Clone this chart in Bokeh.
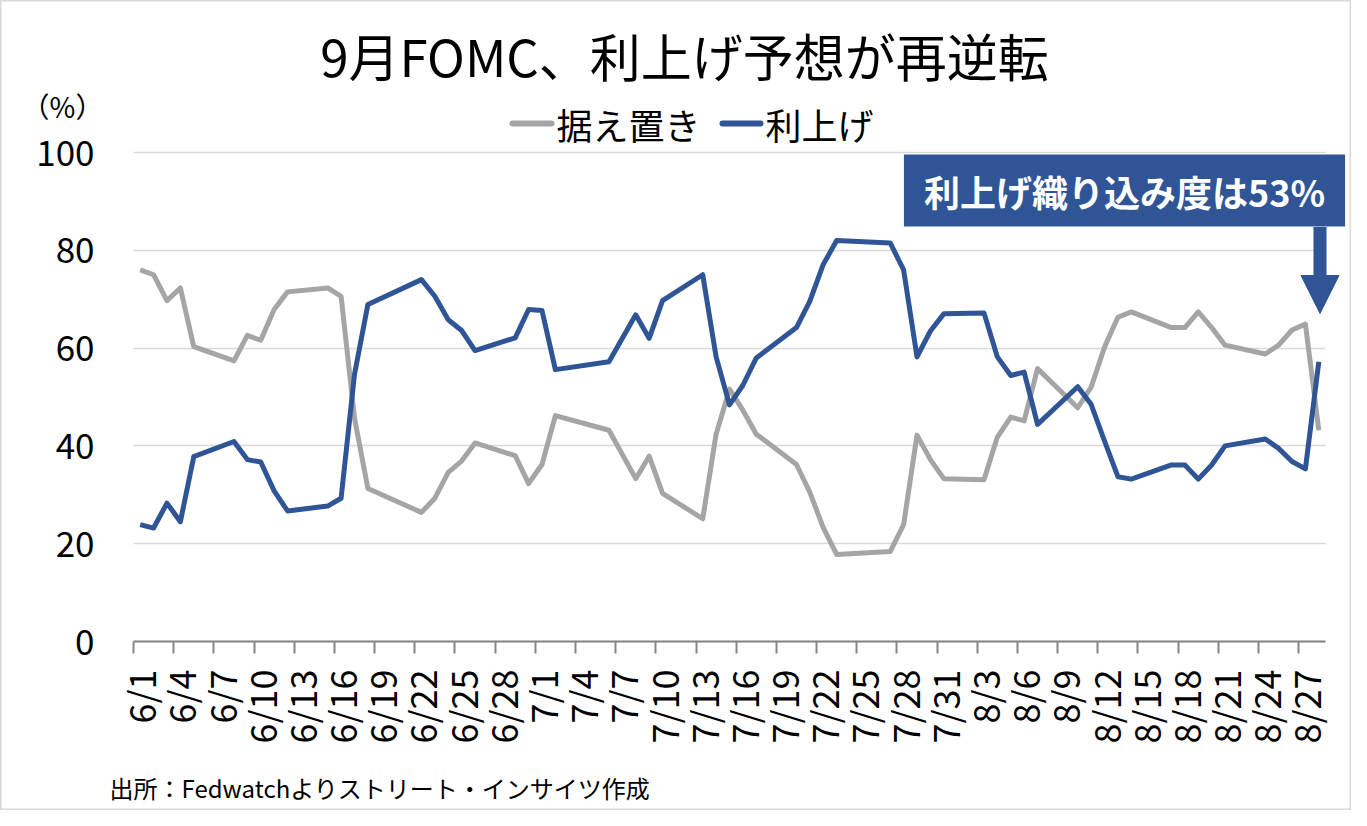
import math
import bokeh.plotting as bplt
import bokeh.models as bmod
from bokeh.embed import file_html
from bokeh.resources import INLINE

# business days (2015), FedWatch probabilities for the September FOMC
dates = ["6/1", "6/2", "6/3", "6/4", "6/5", "6/8", "6/9", "6/10", "6/11", "6/12",
         "6/15", "6/16", "6/17", "6/18", "6/22", "6/23", "6/24", "6/25", "6/26",
         "6/29", "6/30", "7/1", "7/2", "7/6", "7/8", "7/9", "7/10", "7/13", "7/14",
         "7/15", "7/16", "7/17", "7/20", "7/21", "7/22", "7/23", "7/27", "7/28",
         "7/29", "7/30", "7/31", "8/3", "8/4", "8/5", "8/6", "8/7", "8/10", "8/11",
         "8/12", "8/13", "8/14", "8/17", "8/18", "8/19", "8/20", "8/21", "8/24",
         "8/25", "8/26", "8/27", "8/28"]
hold = [76.0, 75.0, 69.7, 72.3, 60.3, 57.4, 62.6, 61.6, 67.9, 71.5,
        72.3, 70.6, 45.7, 31.3, 26.4, 29.3, 34.6, 36.9, 40.6,
        38.0, 32.3, 36.2, 46.2, 43.2, 33.3, 37.9, 30.3, 25.1, 42.4,
        51.6, 47.3, 42.4, 36.2, 30.5, 23.3, 17.8, 18.4, 23.9,
        42.2, 37.2, 33.3, 33.1, 41.8, 45.9, 45.1, 55.8, 47.8, 52.0,
        60.2, 66.3, 67.4, 64.2, 64.2, 67.4, 64.2, 60.6, 58.8,
        60.6, 63.7, 64.9, 43.2]
hike = [23.9, 23.2, 28.3, 24.5, 37.8, 40.9, 37.2, 36.7, 30.8, 26.7,
        27.7, 29.3, 54.6, 68.9, 74.0, 70.6, 65.8, 63.6, 59.5,
        62.1, 67.9, 67.7, 55.6, 57.2, 66.8, 62.0, 69.7, 75.0, 58.2,
        48.4, 52.4, 58.0, 64.2, 69.6, 77.1, 82.0, 81.5, 76.0,
        58.2, 63.5, 67.0, 67.2, 58.2, 54.4, 55.1, 44.4, 52.1, 48.5,
        41.0, 33.7, 33.2, 36.1, 36.1, 33.2, 36.1, 40.0, 41.4,
        39.5, 36.8, 35.3, 57.2]
tick_labels = ["6/1", "6/4", "6/7", "6/10", "6/13", "6/16", "6/19", "6/22", "6/25",
               "6/28", "7/1", "7/4", "7/7", "7/10", "7/13", "7/16", "7/19", "7/22",
               "7/25", "7/28", "7/31", "8/3", "8/6", "8/9", "8/12", "8/15", "8/18",
               "8/21", "8/24", "8/27"]
y_ticks = [0, 20, 40, 60, 80, 100]

GRAY = "#A5A5A5"
BLUE = "#2F5597"
FONT = "Noto Sans CJK JP"

month_start = {6: 0, 7: 30, 8: 61}


def day_index(s):
    m, d = s.split("/")
    return month_start[int(m)] + int(d) - 1


x = [day_index(s) for s in dates]
tick_pos = [day_index(s) for s in tick_labels]

# the frame covers the whole canvas (annotations get clipped to it);
# the plot area itself is days -0.5..88.5 x 0..100 at px 133..1325 x 152..641
W, H = 1351, 810
px_day = (1325 - 133) / 89.0
px_pct = (641 - 152) / 100.0
x_lo = -0.5 - 133 / px_day
x_hi = 88.5 + (W - 1325) / px_day
y_hi = 100 + 152 / px_pct
y_lo = -(H - 641) / px_pct


def dx(px):
    # canvas px -> day units (for placing the texts)
    return x_lo + px / px_day


def dy(py):
    return y_hi - py / px_pct


p = bplt.figure(
    width=W, height=H,
    x_range=(x_lo, x_hi), y_range=(y_lo, y_hi),
    output_backend="svg", toolbar_location=None,
    min_border=0,
)
p.outline_line_color = "#D9D9D9"
p.outline_line_width = 2
p.background_fill_color = "white"
p.border_fill_color = "white"

# y axis: labels only, grid lines
ya = p.yaxis[0]
ya.fixed_location = -0.5
ya.bounds = (0, 100)
ya.ticker = bmod.FixedTicker(ticks=y_ticks)
ya.axis_line_color = None
ya.major_tick_line_color = None
ya.minor_tick_line_color = None
ya.major_tick_out = 0
ya.major_tick_in = 0
ya.major_label_standoff = 39
ya.major_label_text_font = FONT
ya.major_label_text_font_size = "35px"
ya.major_label_text_color = "black"
p.ygrid.grid_line_color = "#D9D9D9"
p.ygrid.grid_line_width = 1.5
p.ygrid.cross_bounds = (-0.5, 88.5)
p.xgrid.grid_line_color = None

# x axis A: line + tick marks on day boundaries
xa = p.xaxis[0]
xa.fixed_location = 0
xa.bounds = (-0.5, 88.5)
xa.ticker = bmod.FixedTicker(ticks=[t - 0.5 for t in tick_pos])
xa.axis_line_color = "#868686"
xa.axis_line_width = 2
xa.major_tick_line_color = "#868686"
xa.major_tick_line_width = 2
xa.major_tick_out = 12
xa.major_tick_in = 0
xa.minor_tick_line_color = None
xa.major_label_text_font_size = "1px"
xa.major_label_text_alpha = 0
xa.major_label_standoff = 0

# x axis B: the date labels, centred on the days
xb = bmod.LinearAxis(
    ticker=bmod.FixedTicker(ticks=tick_pos),
    major_label_overrides={pos: lab for pos, lab in zip(tick_pos, tick_labels)},
    fixed_location=0,
)
xb.axis_line_color = None
xb.major_tick_line_color = None
xb.minor_tick_line_color = None
xb.major_tick_out = 0
xb.major_tick_in = 0
xb.major_label_orientation = math.pi / 2
xb.major_label_standoff = 28
xb.major_label_text_font = FONT
xb.major_label_text_font_size = "36px"
xb.major_label_text_color = "black"
p.add_layout(xb, "below")

src = bmod.ColumnDataSource(dict(x=x, hold=hold, hike=hike))
p.line("x", "hold", source=src, line_color=GRAY, line_width=5, line_join="round")
p.line("x", "hike", source=src, line_color=BLUE, line_width=5, line_join="round")


def label(px, py, text, size, align="left", **kw):
    lab = bmod.Label(x=dx(px), y=dy(py), text=text, text_align=align, text_baseline="middle",
                     text_font=FONT, text_font_size=size, text_color="black", **kw)
    p.add_layout(lab)
    return lab


def legend_line(px0, px1, py, color):
    p.add_layout(bmod.Arrow(end=None, x_start=dx(px0), y_start=dy(py), x_end=dx(px1),
                            y_end=dy(py), line_color=color, line_width=6, line_cap="round"))


# title, unit, legend, source
label(684, 54, "9月FOMC、利上げ予想が再逆転", "51px", align="center")
label(62, 105, "（%）", "28px", align="center")
legend_line(512, 551, 123, GRAY)
label(556, 123, "据え置き", "36px")
legend_line(722, 760, 123, BLUE)
label(765, 123, "利上げ", "36px")
label(109, 787, "出所：Fedwatchよりストリート・インサイツ作成", "24px")

# callout box + arrow
call = label(1124, 190, "利上げ織り込み度は53%", "36px", align="center",
             text_font_style="bold", background_fill_color=BLUE, padding=(20, 10))
call.text_color = "white"
p.add_layout(bmod.Arrow(end=bmod.NormalHead(size=38, fill_color=BLUE, line_color=BLUE),
                        x_start=dx(1319.5), y_start=dy(226.5), x_end=dx(1319.5), y_end=dy(313),
                        line_color=BLUE, line_width=13))

open("out.html", "w").write(file_html(p, INLINE))
